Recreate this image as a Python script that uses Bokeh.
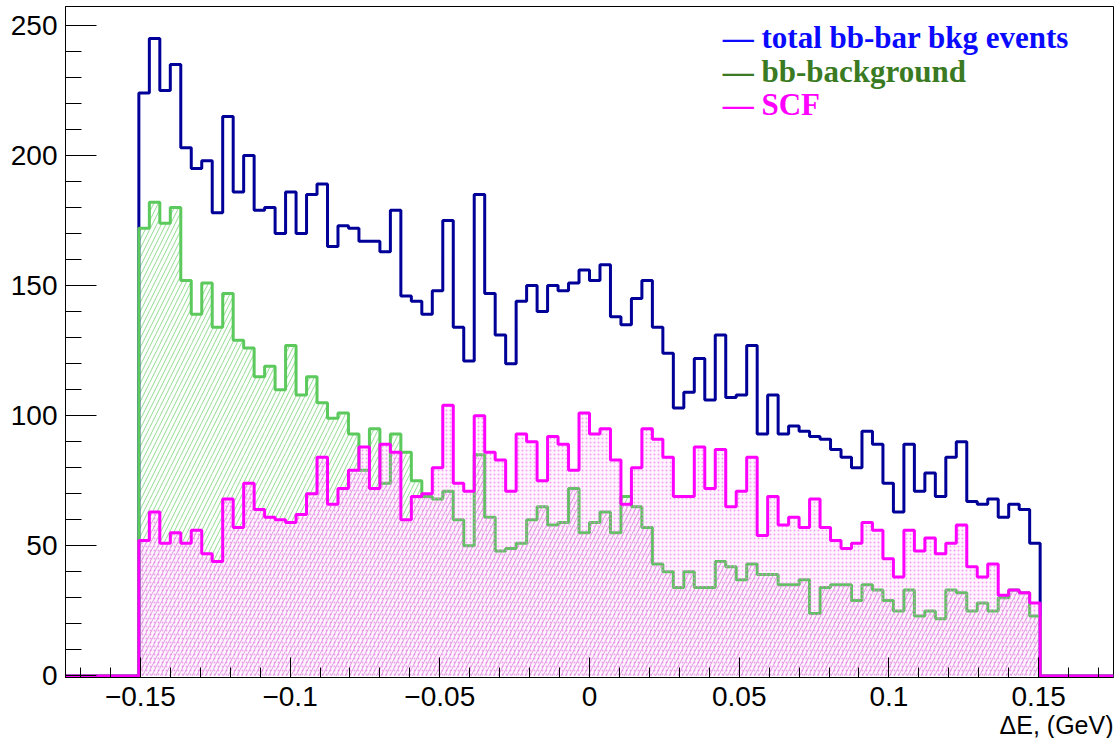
import numpy as np
from bokeh.plotting import figure
from bokeh.models import Range1d, FixedTicker, CustomJSTickFormatter, Label, Title
from bokeh.embed import file_html
from bokeh.resources import INLINE

# ---- histogram binning (100 bins over [-0.175, 0.175]; bins 7..92 are filled) ----
x_lo, x_hi, n_bins = -0.175, 0.175, 100
first_filled = 7

# ---- data: bin contents ----
bb_background = [172, 182, 174, 180, 152, 139, 151, 134, 147, 129,
                 126, 115, 119, 110, 127, 108, 115, 105, 99, 101,
                 93, 79, 95, 74, 93, 86, 75, 69, 68, 71,
                 60, 50, 85, 61, 48, 49, 51, 60, 65, 58,
                 59, 72, 55, 59, 63, 55, 69, 65, 57, 43,
                 40, 34, 40, 34, 34, 44, 42, 37, 43, 39,
                 39, 35, 35, 37, 24, 34, 35, 35, 29, 35,
                 33, 29, 25, 33, 23, 25, 22, 33, 32, 25,
                 28, 25, 30, 33, 32, 23]
scf = [52, 63, 51, 55, 51, 56, 47, 44, 68, 57,
       74, 64, 61, 60, 59, 62, 70, 84, 66, 72,
       79, 88, 72, 89, 86, 60, 69, 70, 80, 104,
       74, 71, 100, 86, 83, 71, 93, 90, 75, 92,
       89, 79, 101, 93, 95, 83, 66, 80, 95, 91,
       84, 69, 69, 88, 72, 87, 65, 71, 84, 54,
       69, 58, 61, 57, 68, 57, 52, 49, 51, 59,
       56, 45, 38, 56, 48, 53, 47, 51, 58, 42,
       38, 43, 31, 33, 32, 28]
total = [224, 245, 225, 235, 203, 195, 198, 178, 215, 186,
         200, 179, 180, 170, 186, 170, 185, 189, 165, 173,
         172, 167, 167, 163, 179, 146, 144, 139, 148, 175,
         134, 121, 185, 147, 131, 120, 144, 150, 140, 150,
         148, 151, 156, 152, 158, 138, 135, 145, 152, 134,
         124, 103, 109, 122, 106, 131, 107, 108, 127, 93,
         108, 93, 96, 94, 92, 91, 87, 84, 80, 94,
         89, 74, 63, 89, 71, 78, 69, 84, 90, 67,
         66, 68, 61, 66, 64, 51]

legend_texts = ["\u2014 total bb-bar bkg events", "\u2014 bb-background", "\u2014 SCF"]
legend_colors = ["#0a0aff", "#3a7a22", "#ff00ff"]
x_title = "\u0394E, (GeV)"


def full(v):
    a = np.zeros(n_bins)
    a[first_filled:first_filled + len(v)] = v
    return a


edges = np.linspace(x_lo, x_hi, n_bins + 1)
h_tot = full(total)
h_bb = full(bb_background)
h_scf = full(scf)

W, H = 1117, 738
p = figure(width=W, height=H, output_backend="svg", toolbar_location=None,
           x_range=Range1d(x_lo, x_hi), y_range=Range1d(-0.6, 1.05 * max(total)),
           min_border_left=65, min_border_right=4, min_border_top=6, min_border_bottom=60)
p.background_fill_color = "white"
p.border_fill_color = "white"
p.outline_line_color = "black"
p.outline_line_width = 1
p.xgrid.visible = False
p.ygrid.visible = False

L, R = edges[:-1], edges[1:]

# green hatch (bb-background)
p.quad(left=L, right=R, bottom=0, top=h_bb, fill_color=None, line_color=None,
       hatch_pattern="/", hatch_color="#8fdc8f", hatch_scale=9, hatch_weight=1)
# overlap of the two filled areas
p.quad(left=L, right=R, bottom=0, top=np.minimum(h_bb, h_scf), fill_color="white",
       line_color=None, hatch_pattern="/", hatch_color="#d9a3d9", hatch_scale=9, hatch_weight=1)

# outlines
p.step(x=edges, y=np.append(h_tot, h_tot[-1]), mode="after", line_color="#000099", line_width=3)
p.step(x=edges, y=np.append(h_bb, h_bb[-1]), mode="after", line_color="#5cc95c", line_width=3)

# SCF dotted fill + outline
p.quad(left=L, right=R, bottom=0, top=h_scf, fill_color="#ff00ff", fill_alpha=0.04, line_color=None,
       hatch_pattern=".", hatch_color="#ee77ee", hatch_scale=4, hatch_weight=1, hatch_alpha=0.7)
p.step(x=edges, y=np.append(h_scf, h_scf[-1]), mode="after", line_color="#ff00ff", line_width=3)

# axes (ROOT style: ticks inside)
x_major = [-0.15, -0.1, -0.05, 0.0, 0.05, 0.1, 0.15]
x_minor = list(np.round(np.arange(-0.17, 0.1701, 0.01), 2))
y_major = [0, 50, 100, 150, 200, 250]
y_minor = list(range(0, 251, 10))

p.xaxis.ticker = FixedTicker(ticks=x_major, minor_ticks=x_minor)
p.yaxis.ticker = FixedTicker(ticks=y_major, minor_ticks=y_minor)
p.xaxis.formatter = CustomJSTickFormatter(code=r"""
let s = tick.toFixed(2);
s = s.replace(/0+$/, '').replace(/\.$/, '');
if (s === '-0') { s = '0'; }
return s.replace('-', '\u2212');
""")

for ax in (p.xaxis[0], p.yaxis[0]):
    ax.axis_line_color = "black"
    ax.axis_line_width = 1
    ax.major_tick_line_color = "black"
    ax.minor_tick_line_color = "black"
    ax.major_tick_out = 0
    ax.minor_tick_out = 0
    ax.major_label_text_font = "Liberation Sans"
    ax.major_label_text_font_size = "28px"
    ax.major_label_text_color = "black"

p.xaxis.major_tick_in = 20
p.xaxis.minor_tick_in = 10
p.yaxis.major_tick_in = 31
p.yaxis.minor_tick_in = 16
p.xaxis.major_label_standoff = 9
p.yaxis.major_label_standoff = 8

# x-axis title, right-aligned below the axis
p.add_layout(Title(text=x_title, align="right", text_font="Liberation Sans",
                   text_font_size="25px", text_font_style="normal", text_color="black",
                   standoff=0, offset=0), "below")

# legend (coloured text entries)
for i, (t, c) in enumerate(zip(legend_texts, legend_colors)):
    p.add_layout(Label(x=0.0445, y=245.5 - 13.05 * i, x_units="data", y_units="data", text=t,
                       text_align="left", text_baseline="alphabetic",
                       text_font="Liberation Serif", text_font_style="bold",
                       text_font_size="31px", text_color=c))

open("out.html", "w").write(file_html(p, INLINE))
